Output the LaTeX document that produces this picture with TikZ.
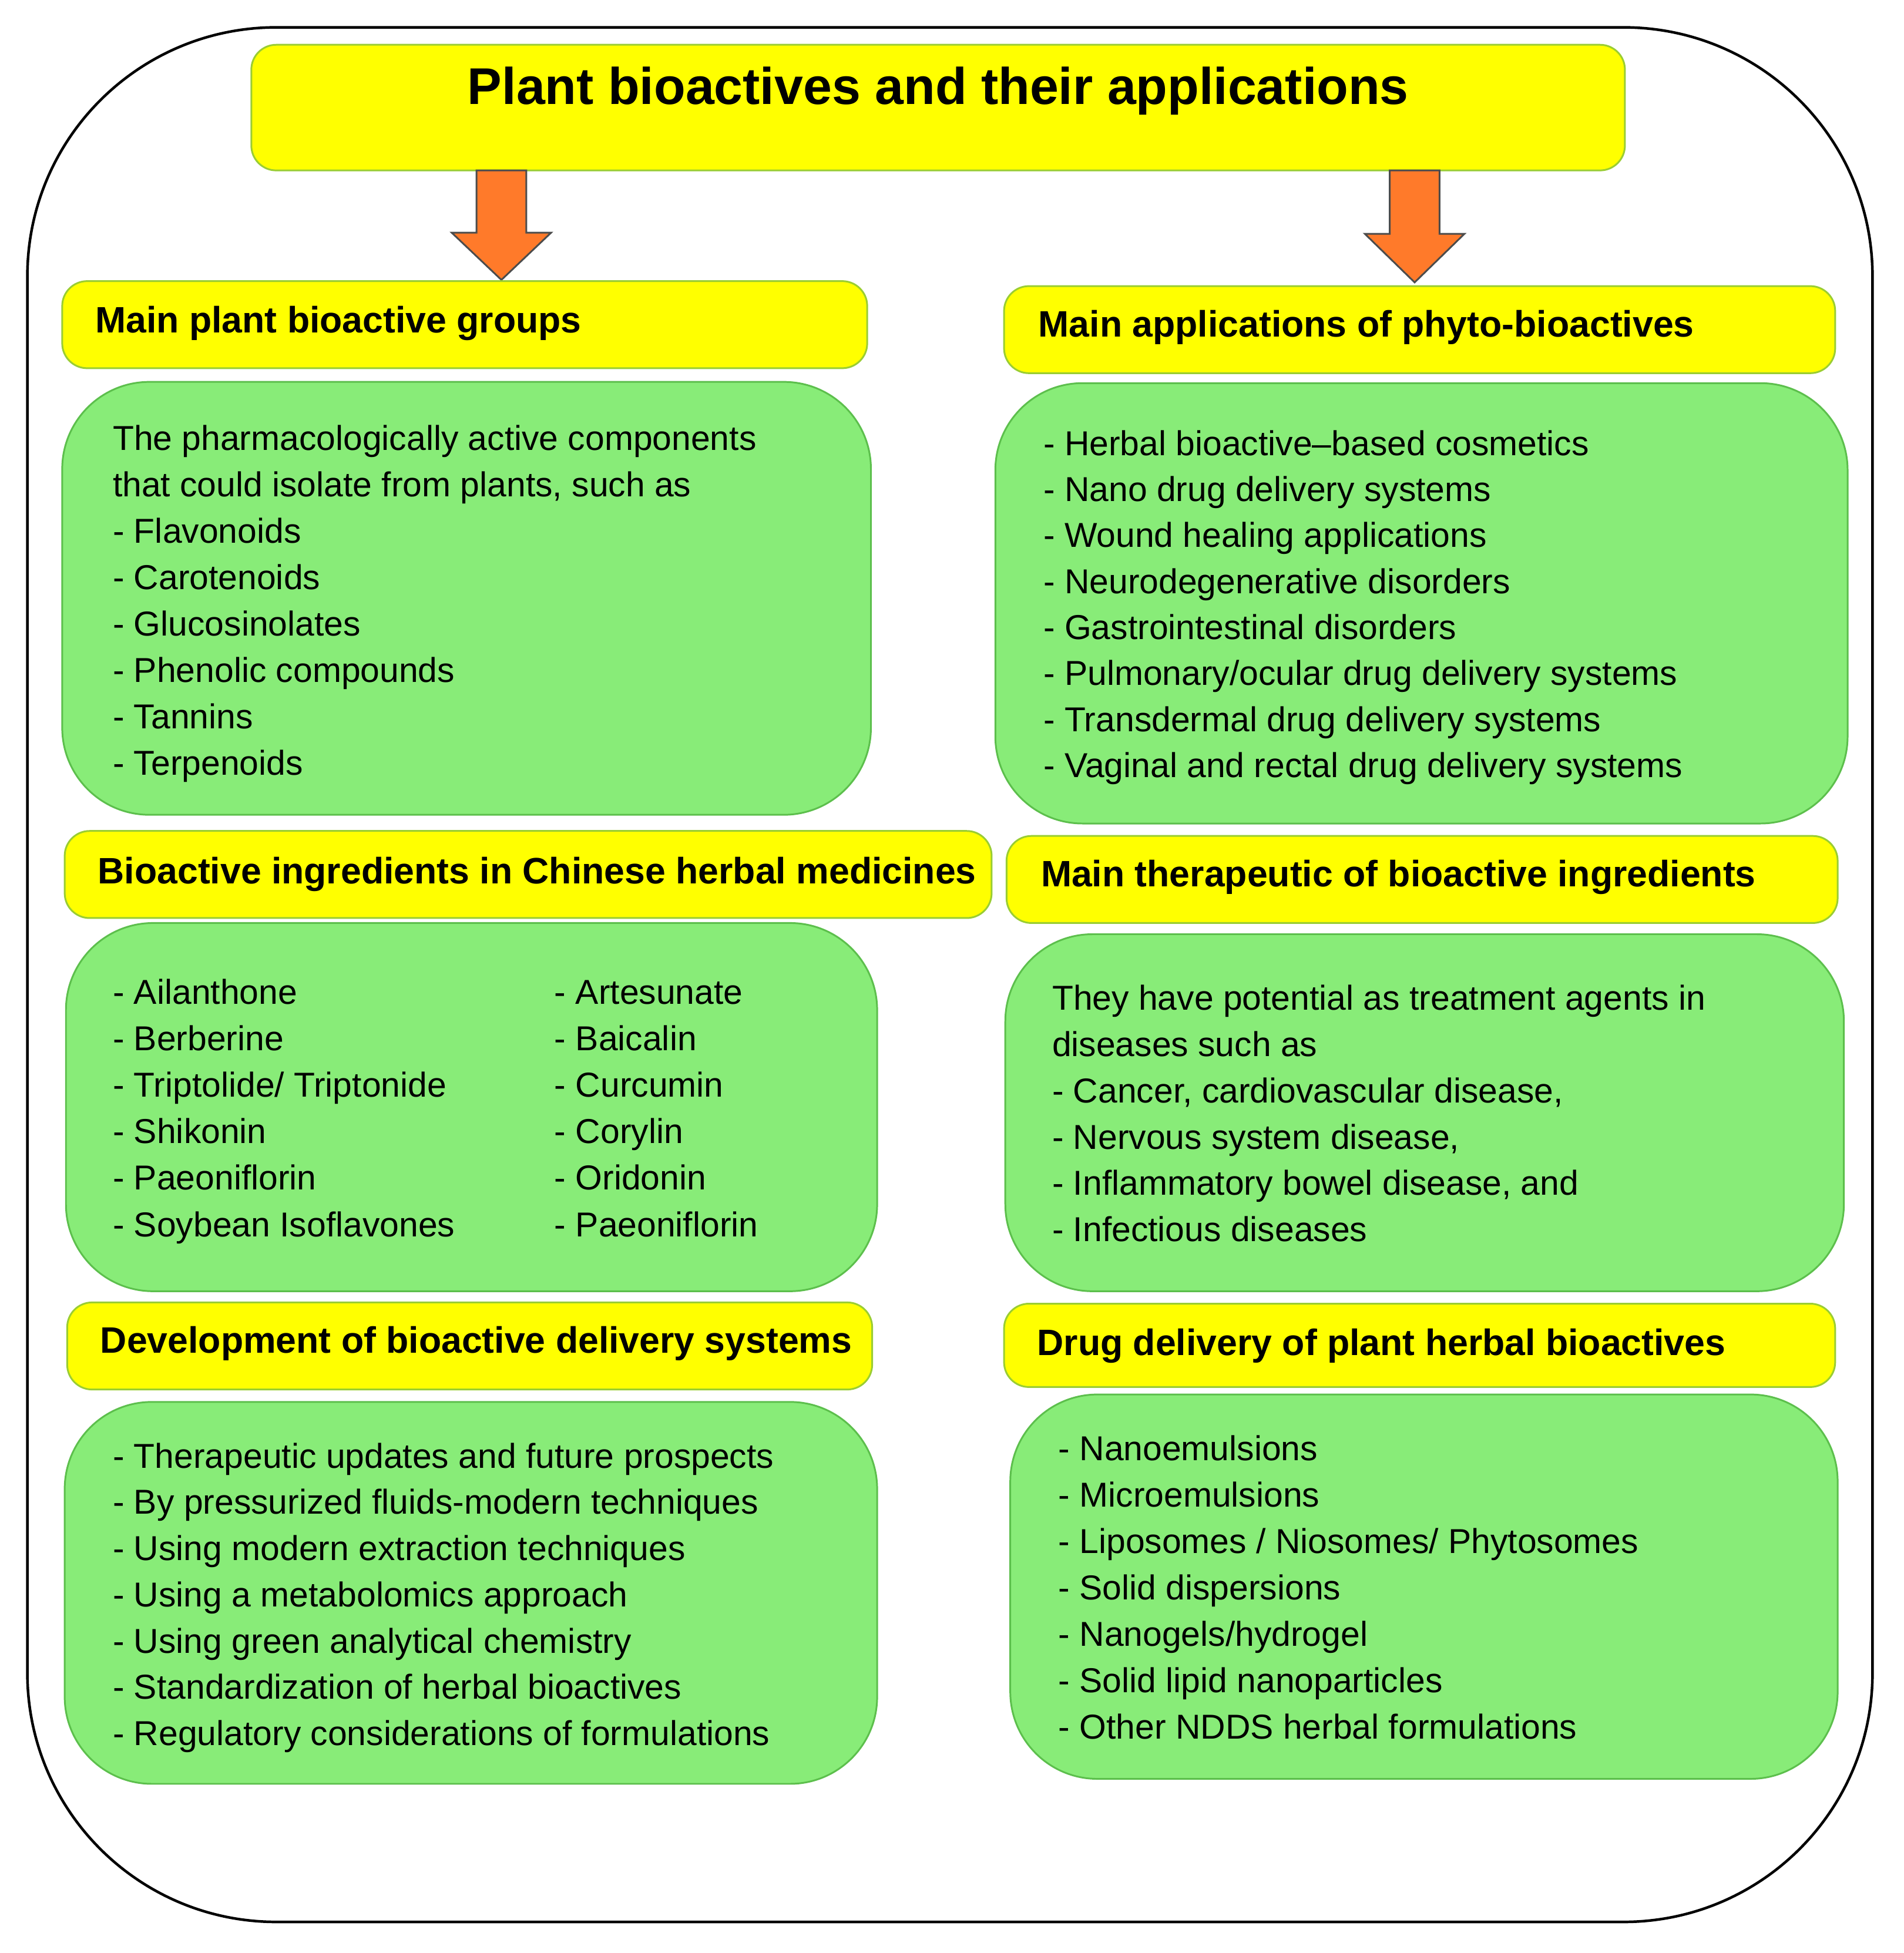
\documentclass[tikz,border=0pt]{standalone}
\usepackage{fontspec}
\setmainfont{Liberation Sans}
\definecolor{yel}{HTML}{FFFF00}
\definecolor{ybord}{HTML}{9ACD32}
\definecolor{grn}{HTML}{88EC78}
\definecolor{gbord}{HTML}{5CBF4C}
\definecolor{arr}{HTML}{FF7A2A}
\begin{document}
\begin{tikzpicture}[x=0.01cm,y=-0.01cm,
 hdr/.style={fill=yel,draw=ybord,line width=0.4pt,rounded corners=2mm},
 grnbox/.style={fill=grn,draw=gbord,line width=0.4pt,rounded corners=7mm},
 htxt/.style={anchor=west,font=\fontsize{8.4}{10}\selectfont\bfseries,inner sep=0pt},
 txt/.style={anchor=base west,font=\fontsize{7.9}{10}\selectfont,inner sep=0pt},
 arrow/.style={fill=arr,draw=black!70,line width=0.4pt}]
\useasboundingbox (0,0) rectangle (1530,1570);
\draw[line width=0.6pt,rounded corners=2cm] (22,22) rectangle (1505,1545);
% title
\draw[hdr] (202,36) rectangle (1306,137);
\node[font=\fontsize{11.8}{14}\selectfont\bfseries] (title) at (754,73) {Plant bioactives and their applications};
% arrows
\draw[arrow] (383,137) -- (423,137) -- (423,187) -- (443,187) -- (403,225) -- (363,187) -- (383,187) -- cycle;
\draw[arrow] (1117,137) -- (1157,137) -- (1157,188) -- (1177,188) -- (1137,227) -- (1097,188) -- (1117,188) -- cycle;
% headers
\draw[hdr] (50,226) rectangle (697,296);
\node[htxt] (h1) at (76,260) {Main plant bioactive groups};
\draw[hdr] (52,668) rectangle (797,738);
\node[htxt] (h2) at (78,703) {Bioactive ingredients in Chinese herbal medicines};
\draw[hdr] (54,1047) rectangle (701,1117);
\node[htxt] (h3) at (80,1080) {Development of bioactive delivery systems};
\draw[hdr] (807,230) rectangle (1475,300);
\node[htxt] (h4) at (834,263) {Main applications of phyto-bioactives};
\draw[hdr] (809,672) rectangle (1477,742);
\node[htxt] (h5) at (836,705) {Main therapeutic of bioactive ingredients};
\draw[hdr] (807,1048) rectangle (1475,1115);
\node[htxt] (h6) at (833,1082) {Drug delivery of plant herbal bioactives};
% green boxes
\draw[grnbox] (50,307) rectangle (700,655);
\draw[grnbox] (53,742) rectangle (705,1038);
\draw[grnbox] (52,1127) rectangle (705,1434);
\draw[grnbox] (800,308) rectangle (1485,662);
\draw[grnbox] (808,751) rectangle (1482,1038);
\draw[grnbox] (812,1121) rectangle (1477,1430);
% texts
\foreach \t [count=\i from 0] in {The pharmacologically active components,{that could isolate from plants, such as},- Flavonoids,- Carotenoids,- Glucosinolates,- Phenolic compounds,- Tannins,- Terpenoids}
  \node[txt] (a\i) at (90,362+\i*37.3) {\t};
\foreach \t [count=\i from 0] in {- Ailanthone,- Berberine,- Triptolide/ Triptonide,- Shikonin,- Paeoniflorin,- Soybean Isoflavones}
  \node[txt] (b\i) at (90,807+\i*37.4) {\t};
\foreach \t [count=\i from 0] in {- Artesunate,- Baicalin,- Curcumin,- Corylin,- Oridonin,- Paeoniflorin}
  \node[txt] (c\i) at (445,807+\i*37.4) {\t};
\foreach \t [count=\i from 0] in {- Therapeutic updates and future prospects,- By pressurized fluids-modern techniques,- Using modern extraction techniques,- Using a metabolomics approach,- Using green analytical chemistry,- Standardization of herbal bioactives,- Regulatory considerations of formulations}
  \node[txt] (d\i) at (90,1180+\i*37.2) {\t};
\foreach \t [count=\i from 0] in {- Herbal bioactive–based cosmetics,- Nano drug delivery systems,- Wound healing applications,- Neurodegenerative disorders,- Gastrointestinal disorders,- Pulmonary/ocular drug delivery systems,- Transdermal drug delivery systems,- Vaginal and rectal drug delivery systems}
  \node[txt] (e\i) at (838,366+\i*37) {\t};
\foreach \t [count=\i from 0] in {They have potential as treatment agents in,diseases such as,{- Cancer, cardiovascular disease,},{- Nervous system disease,},{- Inflammatory bowel disease, and},- Infectious diseases}
  \node[txt] (f\i) at (845,812+\i*37.2) {\t};
\foreach \t [count=\i from 0] in {- Nanoemulsions,- Microemulsions,- Liposomes / Niosomes/ Phytosomes,- Solid dispersions,- Nanogels/hydrogel,- Solid lipid nanoparticles,- Other NDDS herbal formulations}
  \node[txt] (g\i) at (850,1174+\i*37.3) {\t};
\end{tikzpicture}
\end{document}
